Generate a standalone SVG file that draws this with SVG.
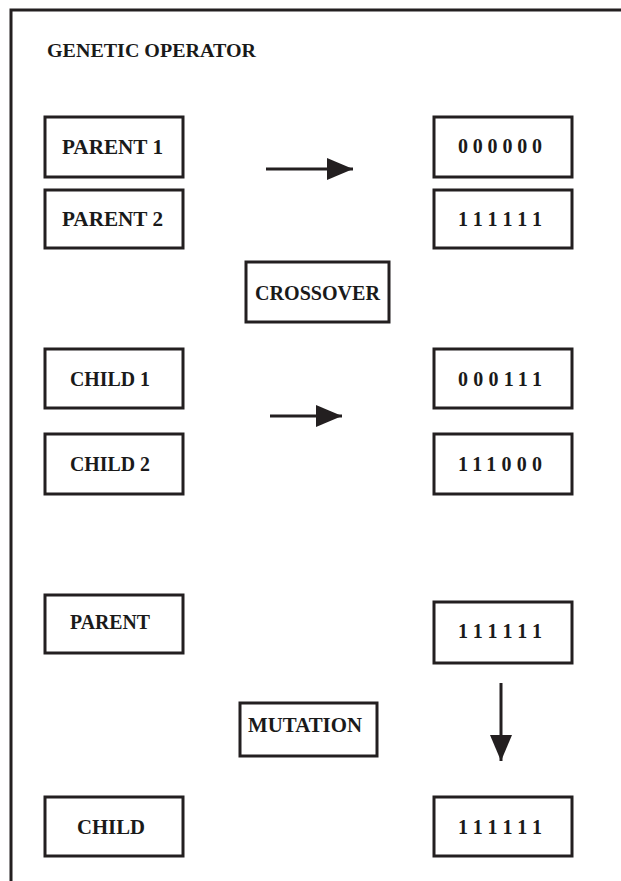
<svg xmlns="http://www.w3.org/2000/svg" width="621" height="881" viewBox="0 0 621 881">
<style>
.box{fill:#fff;stroke:#231f20;stroke-width:3}
.t{font-family:"Liberation Serif","Times New Roman",serif;font-weight:bold;font-size:21px;fill:#1a1a1a}
.n{font-size:20px}
.c{stroke:#231f20;stroke-width:3;fill:none}
</style>
<defs>
<marker id="ah2" markerWidth="26" markerHeight="22" refX="26" refY="11" orient="auto" markerUnits="userSpaceOnUse">
<path d="M0,0 L26,11 L0,22 z" fill="#231f20"/>
</marker>
</defs>
<rect x="0" y="0" width="621" height="881" fill="#fff"/>
<path d="M11,881 V10 H621" fill="none" stroke="#231f20" stroke-width="3"/>
<text class="t" x="47" y="57" textLength="209" lengthAdjust="spacingAndGlyphs" style="font-size:19px">GENETIC OPERATOR</text>

<g id="parent1"><rect class="box" x="45" y="117" width="138" height="60"/><text class="t" x="62" y="154" textLength="101" lengthAdjust="spacingAndGlyphs">PARENT 1</text></g>
<g id="parent2"><rect class="box" x="45" y="190" width="138" height="58"/><text class="t" x="62" y="226" textLength="101" lengthAdjust="spacingAndGlyphs">PARENT 2</text></g>
<g id="p1bits"><rect class="box" x="434" y="117" width="138" height="60"/><text class="t n" x="458" y="153" textLength="84" lengthAdjust="spacing">000000</text></g>
<g id="p2bits"><rect class="box" x="434" y="190" width="138" height="58"/><text class="t n" x="458" y="226" textLength="84" lengthAdjust="spacing">111111</text></g>
<g id="crossover"><rect class="box" x="246" y="262" width="143" height="60"/><text class="t" x="255" y="300" textLength="125" lengthAdjust="spacingAndGlyphs">CROSSOVER</text></g>
<g id="child1"><rect class="box" x="45" y="349" width="138" height="59"/><text class="t" x="70" y="386" textLength="80" lengthAdjust="spacingAndGlyphs">CHILD 1</text></g>
<g id="child2"><rect class="box" x="45" y="434" width="138" height="60"/><text class="t" x="70" y="471" textLength="80" lengthAdjust="spacingAndGlyphs">CHILD 2</text></g>
<g id="c1bits"><rect class="box" x="434" y="349" width="138" height="59"/><text class="t n" x="458" y="386" textLength="84" lengthAdjust="spacing">000111</text></g>
<g id="c2bits"><rect class="box" x="434" y="434" width="138" height="60"/><text class="t n" x="458" y="471" textLength="84" lengthAdjust="spacing">111000</text></g>
<g id="parent"><rect class="box" x="45" y="595" width="138" height="58"/><text class="t" x="70" y="629" textLength="80" lengthAdjust="spacingAndGlyphs">PARENT</text></g>
<g id="pbits"><rect class="box" x="434" y="602" width="138" height="61"/><text class="t n" x="458" y="638" textLength="84" lengthAdjust="spacing">111111</text></g>
<g id="mutation"><rect class="box" x="240" y="703" width="137" height="53"/><text class="t" x="248" y="732" textLength="114" lengthAdjust="spacingAndGlyphs">MUTATION</text></g>
<g id="child"><rect class="box" x="45" y="797" width="138" height="59"/><text class="t" x="77" y="834" textLength="68" lengthAdjust="spacingAndGlyphs">CHILD</text></g>
<g id="cbits"><rect class="box" x="434" y="797" width="138" height="59"/><text class="t n" x="458" y="834" textLength="84" lengthAdjust="spacing">111111</text></g>

<g id="connectors">
<line class="c" x1="266" y1="169" x2="353" y2="169" marker-end="url(#ah2)"/>
<line class="c" x1="270" y1="416" x2="342" y2="416" marker-end="url(#ah2)"/>
<line class="c" x1="501" y1="683" x2="501" y2="761" marker-end="url(#ah2)"/>
</g>
</svg>
